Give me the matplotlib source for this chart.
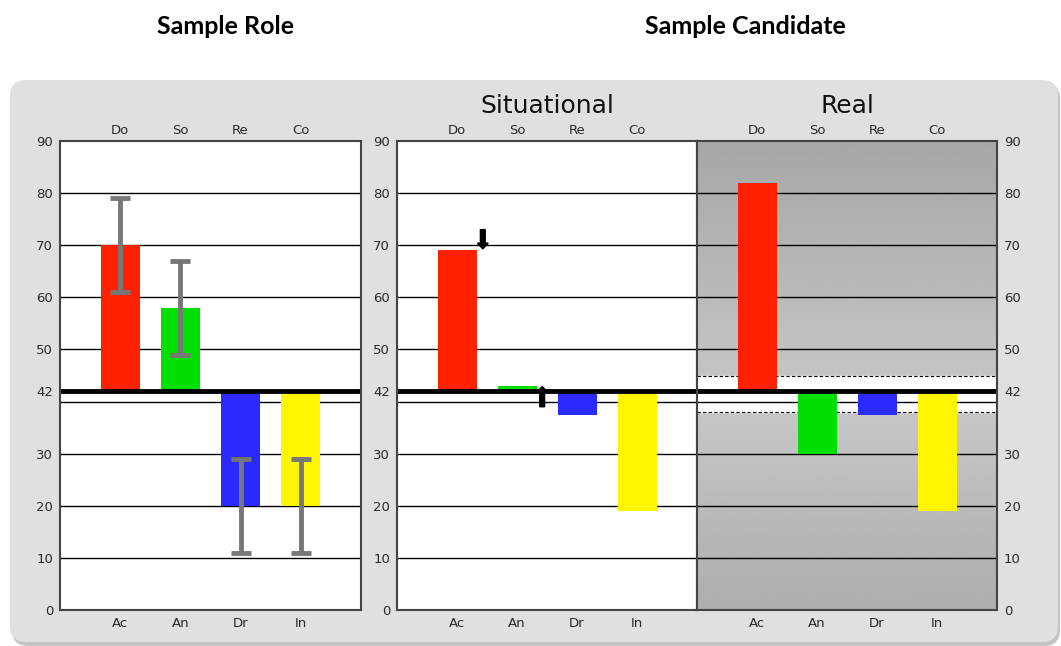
import numpy as np
import matplotlib
matplotlib.use("Agg")
import matplotlib.pyplot as plt
from matplotlib.patches import FancyBboxPatch

top_labels = ["Do", "So", "Re", "Co"]
bottom_labels = ["Ac", "An", "Dr", "In"]
y_ticks = [0, 10, 20, 30, 42, 50, 60, 70, 80, 90]
baseline = 42

role_values = [70, 58, 20, 20]
role_err_low = [61, 49, 11, 11]
role_err_high = [79, 67, 29, 29]

situational_values = [69, 43, 37.5, 19]
real_values = [82, 30, 37.5, 19]

# arrows on situational panel: x position, tail, tip
arrow_x = [1.43, 2.42]
arrow_tail = [73.0, 39.0]
arrow_tip = [69.3, 42.9]

real_band = [38, 45]

bar_colors = ["#ff2000", "#00e000", "#2a2aff", "#fff500"]
W, H = 1061, 646


def setup_axes(ax, side):
    x = np.arange(1, 5)
    ax.set_xlim(0, 5)
    ax.set_ylim(0, 90)
    ax.set_xticks(x, bottom_labels)
    ax.set_yticks(y_ticks)
    ax.tick_params(length=0, labelsize=9.5, labelcolor="#2a2a2a", pad=5)
    if side == "right":
        ax.yaxis.tick_right()
    top = ax.secondary_xaxis("top")
    top.set_xticks(x, top_labels)
    top.tick_params(length=0, labelsize=9.5, labelcolor="#2a2a2a", pad=3)
    top.spines["top"].set_visible(False)
    for s in ax.spines.values():
        s.set_color("#444444")
        s.set_linewidth(1.5)
        s.set_zorder(6)
    for g in [10, 20, 30, 40, 50, 60, 70, 80]:
        ax.axhline(g, color="black", lw=1, zorder=1)
    ax.axhline(baseline, color="black", lw=3.5, zorder=5)


def draw_bars(ax, values):
    x = np.arange(1, 5)
    heights = [v - baseline for v in values]
    ax.bar(x, heights, bottom=baseline, width=0.65, color=bar_colors, zorder=3)


fig = plt.figure(figsize=(W / 100, H / 100), dpi=100)
fig.patch.set_facecolor("white")

# rounded grey background (pixel coordinates)
shadow = FancyBboxPatch((12, 0), 1048, 563, boxstyle="round,pad=0,rounding_size=16",
                        transform=None, facecolor="#c4c4c4", edgecolor="none", zorder=-2)
panel = FancyBboxPatch((10, 4), 1048, 562, boxstyle="round,pad=0,rounding_size=16",
                       transform=None, facecolor="#e0e0e0", edgecolor="none", zorder=-1)
fig.patches.extend([shadow, panel])

fig.text(225 / W, 1 - 26 / H, "Sample Role", ha="center", va="center",
         fontsize=18, fontweight="bold", family="Lato")
fig.text(745 / W, 1 - 26 / H, "Sample Candidate", ha="center", va="center",
         fontsize=18, fontweight="bold", family="Lato")

ax_b = 1 - 610 / H
ax_h = 469 / H
ax1 = fig.add_axes([60 / W, ax_b, 301 / W, ax_h])
ax2 = fig.add_axes([397 / W, ax_b, 300 / W, ax_h])
ax3 = fig.add_axes([697 / W, ax_b, 300 / W, ax_h])

# Sample Role
setup_axes(ax1, "left")
draw_bars(ax1, role_values)
x = np.arange(1, 5)
yerr = [np.array(role_values) - np.array(role_err_low),
        np.array(role_err_high) - np.array(role_values)]
ax1.errorbar(x, role_values, yerr=yerr, fmt="none", ecolor="#777777",
             elinewidth=3.5, capsize=7, capthick=3.5, zorder=4)

# Situational
setup_axes(ax2, "left")
draw_bars(ax2, situational_values)
for xa, t, tip in zip(arrow_x, arrow_tail, arrow_tip):
    ax2.arrow(xa, t, 0, tip - t, width=0.08, head_width=0.18, head_length=1.1,
              length_includes_head=True, color="black", zorder=7)
ax2.set_title("Situational", fontsize=18, pad=20, color="#111111")

# Real
setup_axes(ax3, "right")
grad_y = np.linspace(0, 90, 200)
shade = 0.784 - np.abs(grad_y - 40) / 50 * 0.13
img = np.repeat(shade[:, None], 2, axis=1)
ax3.imshow(img, extent=[0, 5, 0, 90], origin="lower", aspect="auto",
           cmap="gray", vmin=0, vmax=1, zorder=0)
ax3.axhspan(real_band[0], real_band[1], color="white", zorder=0.5)
for b in real_band:
    ax3.axhline(b, color="black", lw=0.8, ls=(0, (3, 2)), zorder=1)
draw_bars(ax3, real_values)
ax3.set_xlim(0, 5)
ax3.set_ylim(0, 90)
ax3.set_title("Real", fontsize=18, pad=20, color="#111111")

fig.savefig("out.png", dpi=100)
